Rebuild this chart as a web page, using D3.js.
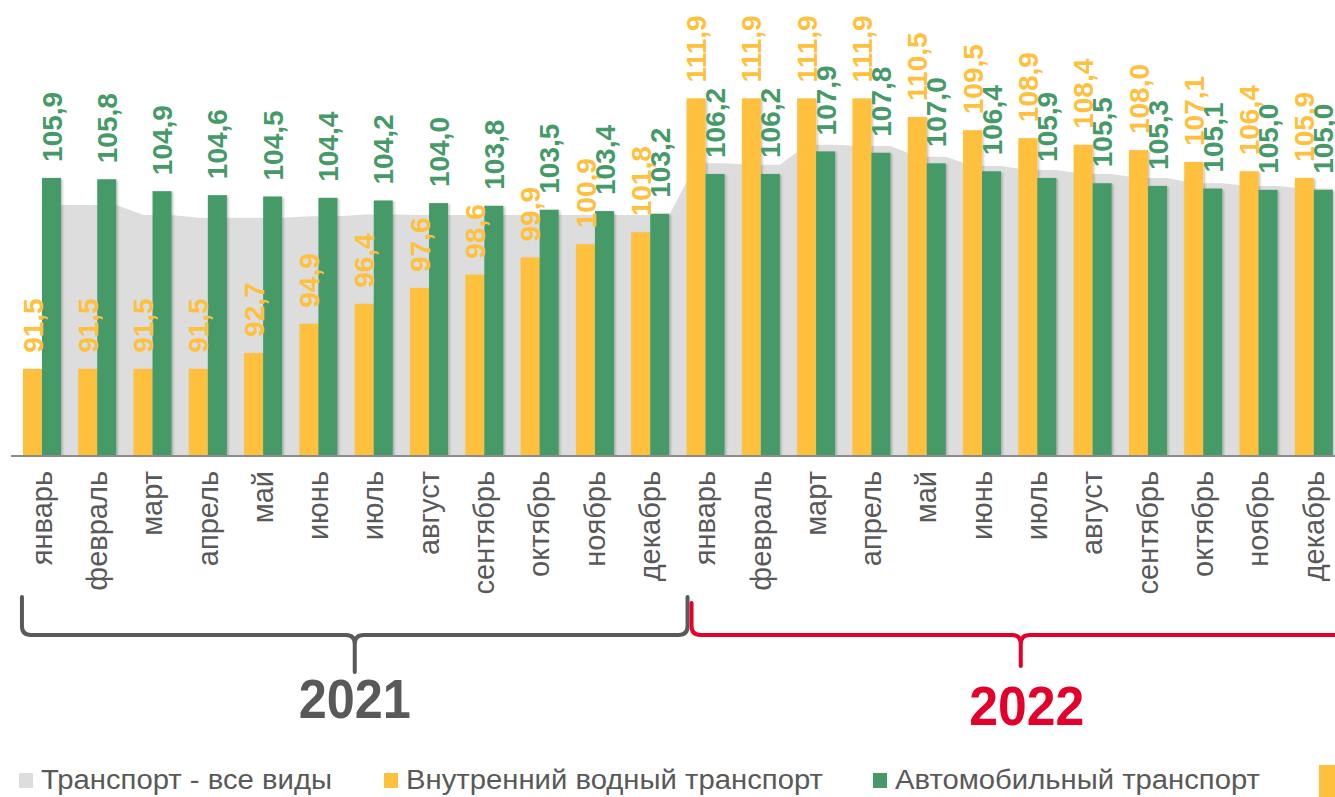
<!DOCTYPE html>
<html>
<head>
<meta charset="utf-8">
<script src="https://cdn.jsdelivr.net/npm/d3@7"></script>
<style>
  body { margin: 0; background: #fff; }
  svg { display: block; font-family: "Liberation Sans", Arial, sans-serif; }
</style>
</head>
<body>
<div id="chart"></div>
<script>
const YELLOW = "#FFC03D";
const GREEN = "#459A67";
const GRAY_AREA = "#DDDDDD";
const TEXT_GRAY = "#595959";
const RED = "#E4002B";

const months = ["январь", "февраль", "март", "апрель", "май", "июнь", "июль", "август", "сентябрь", "октябрь", "ноябрь", "декабрь"];
const years = ["2021", "2022"];
// все виды транспорта (серая область)
const allTransport = [103.85, 103.85, 103.1, 102.9, 102.9, 103.0, 103.15, 103.1, 103.1, 103.1, 103.1, 103.1,
                      107.0, 106.9, 108.4, 108.3, 107.5, 106.8, 106.5, 106.2, 105.9, 105.5, 105.3, 105.1];
// внутренний водный транспорт
const waterTransport = [91.5, 91.5, 91.5, 91.5, 92.7, 94.9, 96.4, 97.6, 98.6, 99.9, 100.9, 101.8,
                        111.9, 111.9, 111.9, 111.9, 110.5, 109.5, 108.9, 108.4, 108.0, 107.1, 106.4, 105.9];
// автомобильный транспорт
const roadTransport = [105.9, 105.8, 104.9, 104.6, 104.5, 104.4, 104.2, 104.0, 103.8, 103.5, 103.4, 103.2,
                       106.2, 106.2, 107.9, 107.8, 107.0, 106.4, 105.9, 105.5, 105.3, 105.1, 105.0, 105.0];
const legendLabels = ["Транспорт - все виды", "Внутренний водный транспорт", "Автомобильный транспорт"];

const width = 1335, height = 797;
const baseY = 455;

const periods = d3.range(years.length * months.length);

const svg = d3.select("#chart").append("svg").attr("width", width).attr("height", height);

const defs = svg.append("defs");
const shadow = defs.append("filter").attr("id", "shadow").attr("x", "-20%").attr("y", "-5%").attr("width", "150%").attr("height", "115%");
shadow.append("feDropShadow").attr("dx", 1.5).attr("dy", 1).attr("stdDeviation", 1).attr("flood-color", "#000").attr("flood-opacity", 0.25);

let x = d3.scaleBand().domain(periods).range([14.3, 1341.5]).paddingInner(0.3128).paddingOuter(0.1564);
let y = d3.scaleLinear().domain([85, 120]).range([baseY, -9]);
let bw = x.bandwidth() / 2;

// серая область: ровно над столбцами месяца, переход в промежутке
let areaPts = [];
periods.forEach(function (i) {
    let s = x(i);
    areaPts.push({ x: s + (i === 0 ? bw : bw * 0.52), v: allTransport[i] });
    areaPts.push({ x: s + 2 * bw, v: allTransport[i] });
});
let area = d3.area().x(d => d.x).y0(baseY).y1(d => y(d.v));
svg.append("path").datum(areaPts).attr("d", area).attr("fill", GRAY_AREA);

// столбцы
let bars = svg.append("g").attr("filter", "url(#shadow)");
bars.selectAll("rect.water").data(periods).join("rect").attr("class", "water")
    .attr("x", i => x(i)).attr("width", bw)
    .attr("y", i => y(waterTransport[i])).attr("height", i => baseY - y(waterTransport[i]))
    .attr("fill", YELLOW);
bars.selectAll("rect.road").data(periods).join("rect").attr("class", "road")
    .attr("x", i => x(i) + bw).attr("width", bw)
    .attr("y", i => y(roadTransport[i])).attr("height", i => baseY - y(roadTransport[i]))
    .attr("fill", GREEN);

// ось
svg.append("line").attr("x1", 11).attr("x2", width).attr("y1", baseY + 1).attr("y2", baseY + 1)
    .attr("stroke", "#8C8C8C").attr("stroke-width", 2);

const fmt = v => v.toFixed(1).replace(".", ",");

// подписи значений
function valueLabels(data, offset, color) {
    svg.append("g").selectAll("text").data(periods).join("text")
        .attr("transform", i => `translate(${x(i) + offset + bw / 2},${y(data[i]) - 16}) rotate(-90)`)
        .attr("dy", "0.36em")
        .attr("font-size", "28px").attr("font-weight", "bold")
        .attr("fill", color)
        .text(i => fmt(data[i]));
}
valueLabels(waterTransport, 0, YELLOW);
valueLabels(roadTransport, bw, GREEN);

// месяцы
svg.append("g").selectAll("text").data(periods).join("text")
    .attr("transform", i => `translate(${x(i) + bw + 1},${baseY + 16}) rotate(-90)`)
    .attr("text-anchor", "end").attr("dy", "0.3em")
    .attr("font-size", "29px").attr("fill", TEXT_GRAY)
    .text(i => months[i % 12]);

// фигурные скобки
function brace(x0, x1, xm, yTop, yLine, yTip, r) {
    return `M${x0},${yTop} L${x0},${yLine - r} Q${x0},${yLine} ${x0 + r},${yLine} L${xm - r},${yLine} Q${xm},${yLine} ${xm},${yLine + r} L${xm},${yTip}` +
        ` M${xm},${yLine + r} Q${xm},${yLine} ${xm + r},${yLine} L${x1 - r},${yLine} Q${x1},${yLine} ${x1},${yLine - r} L${x1},${yTop}`;
}
let b1x0 = x(0) - 1, b1x1 = x(12) + 1;
let b2x0 = x(12) + 5, b2x1 = width + 15;
svg.append("path").attr("d", brace(b1x0, b1x1, (b1x0 + b1x1) / 2, 597, 635, 672, 9))
    .attr("fill", "none").attr("stroke", TEXT_GRAY).attr("stroke-width", 4).attr("stroke-linecap", "round");
svg.append("path").attr("d", brace(b2x0, b2x1, (b2x0 + b2x1) / 2, 603, 635, 666, 9))
    .attr("fill", "none").attr("stroke", RED).attr("stroke-width", 4).attr("stroke-linecap", "round");

svg.append("text").attr("x", (b1x0 + b1x1) / 2).attr("y", 718).attr("text-anchor", "middle")
    .attr("font-size", "56px").attr("font-weight", "bold").attr("fill", TEXT_GRAY)
    .attr("textLength", 112).attr("lengthAdjust", "spacingAndGlyphs").text(years[0]);
svg.append("text").attr("x", (b2x0 + b2x1) / 2 + 6).attr("y", 725).attr("text-anchor", "middle")
    .attr("font-size", "56px").attr("font-weight", "bold").attr("fill", RED)
    .attr("textLength", 115).attr("lengthAdjust", "spacingAndGlyphs").text(years[1]);

// легенда
const legendColors = [GRAY_AREA, YELLOW, GREEN];
const legendX = [19, 384, 873];
const legendLen = [291, 417, 365];
let lg = svg.append("g").selectAll("g").data(legendLabels).join("g")
    .attr("transform", (d, i) => `translate(${legendX[i]},773)`);
lg.append("rect").attr("width", 14).attr("height", 15).attr("fill", (d, i) => legendColors[i]);
lg.append("text").attr("x", 22).attr("y", 16).attr("font-size", "27px").attr("fill", TEXT_GRAY)
    .attr("textLength", (d, i) => legendLen[i]).attr("lengthAdjust", "spacingAndGlyphs").text(d => d);
svg.append("rect").attr("x", 1319).attr("y", 765).attr("width", 16).attr("height", 32).attr("fill", YELLOW);
</script>
</body>
</html>
